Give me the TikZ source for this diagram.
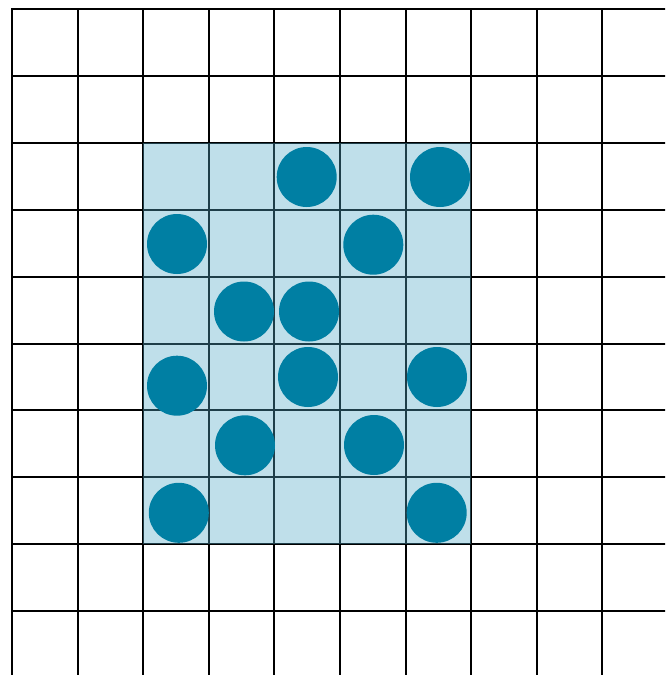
\documentclass[tikz,border=0pt]{standalone}
\definecolor{gridfill}{RGB}{83,169,198}
\definecolor{dotcol}{RGB}{0,127,163}
\begin{document}
\begin{tikzpicture}[x=1pt,y=-1pt,
  gridline/.style={black, line width=2pt},
  region/.style={fill=gridfill, fill opacity=0.373},
  dotfill/.style={fill=dotcol}]
\useasboundingbox (0,0) rectangle (665,675);
\clip (0,0) rectangle (665,675);
\foreach \i in {0,...,9} \draw[gridline] ({12+65.6*\i},8) -- ({12+65.6*\i},677);
\foreach \j in {0,...,9} \draw[gridline] (11,{9+66.9*\j}) -- (667,{9+66.9*\j});
\fill[region] (143.2,142.8) rectangle (471.2,544.2);
\foreach \p in {(306.7,177),(440,177),(177,244),(373.3,244.7),(244,311.5),(309,311.5),(177,385.7),(308,377),(437,377),(245,445.3),(374,445),(178.8,512.8),(436.7,512.8)}
  \fill[dotfill] \p circle (30pt);
\end{tikzpicture}
\end{document}
